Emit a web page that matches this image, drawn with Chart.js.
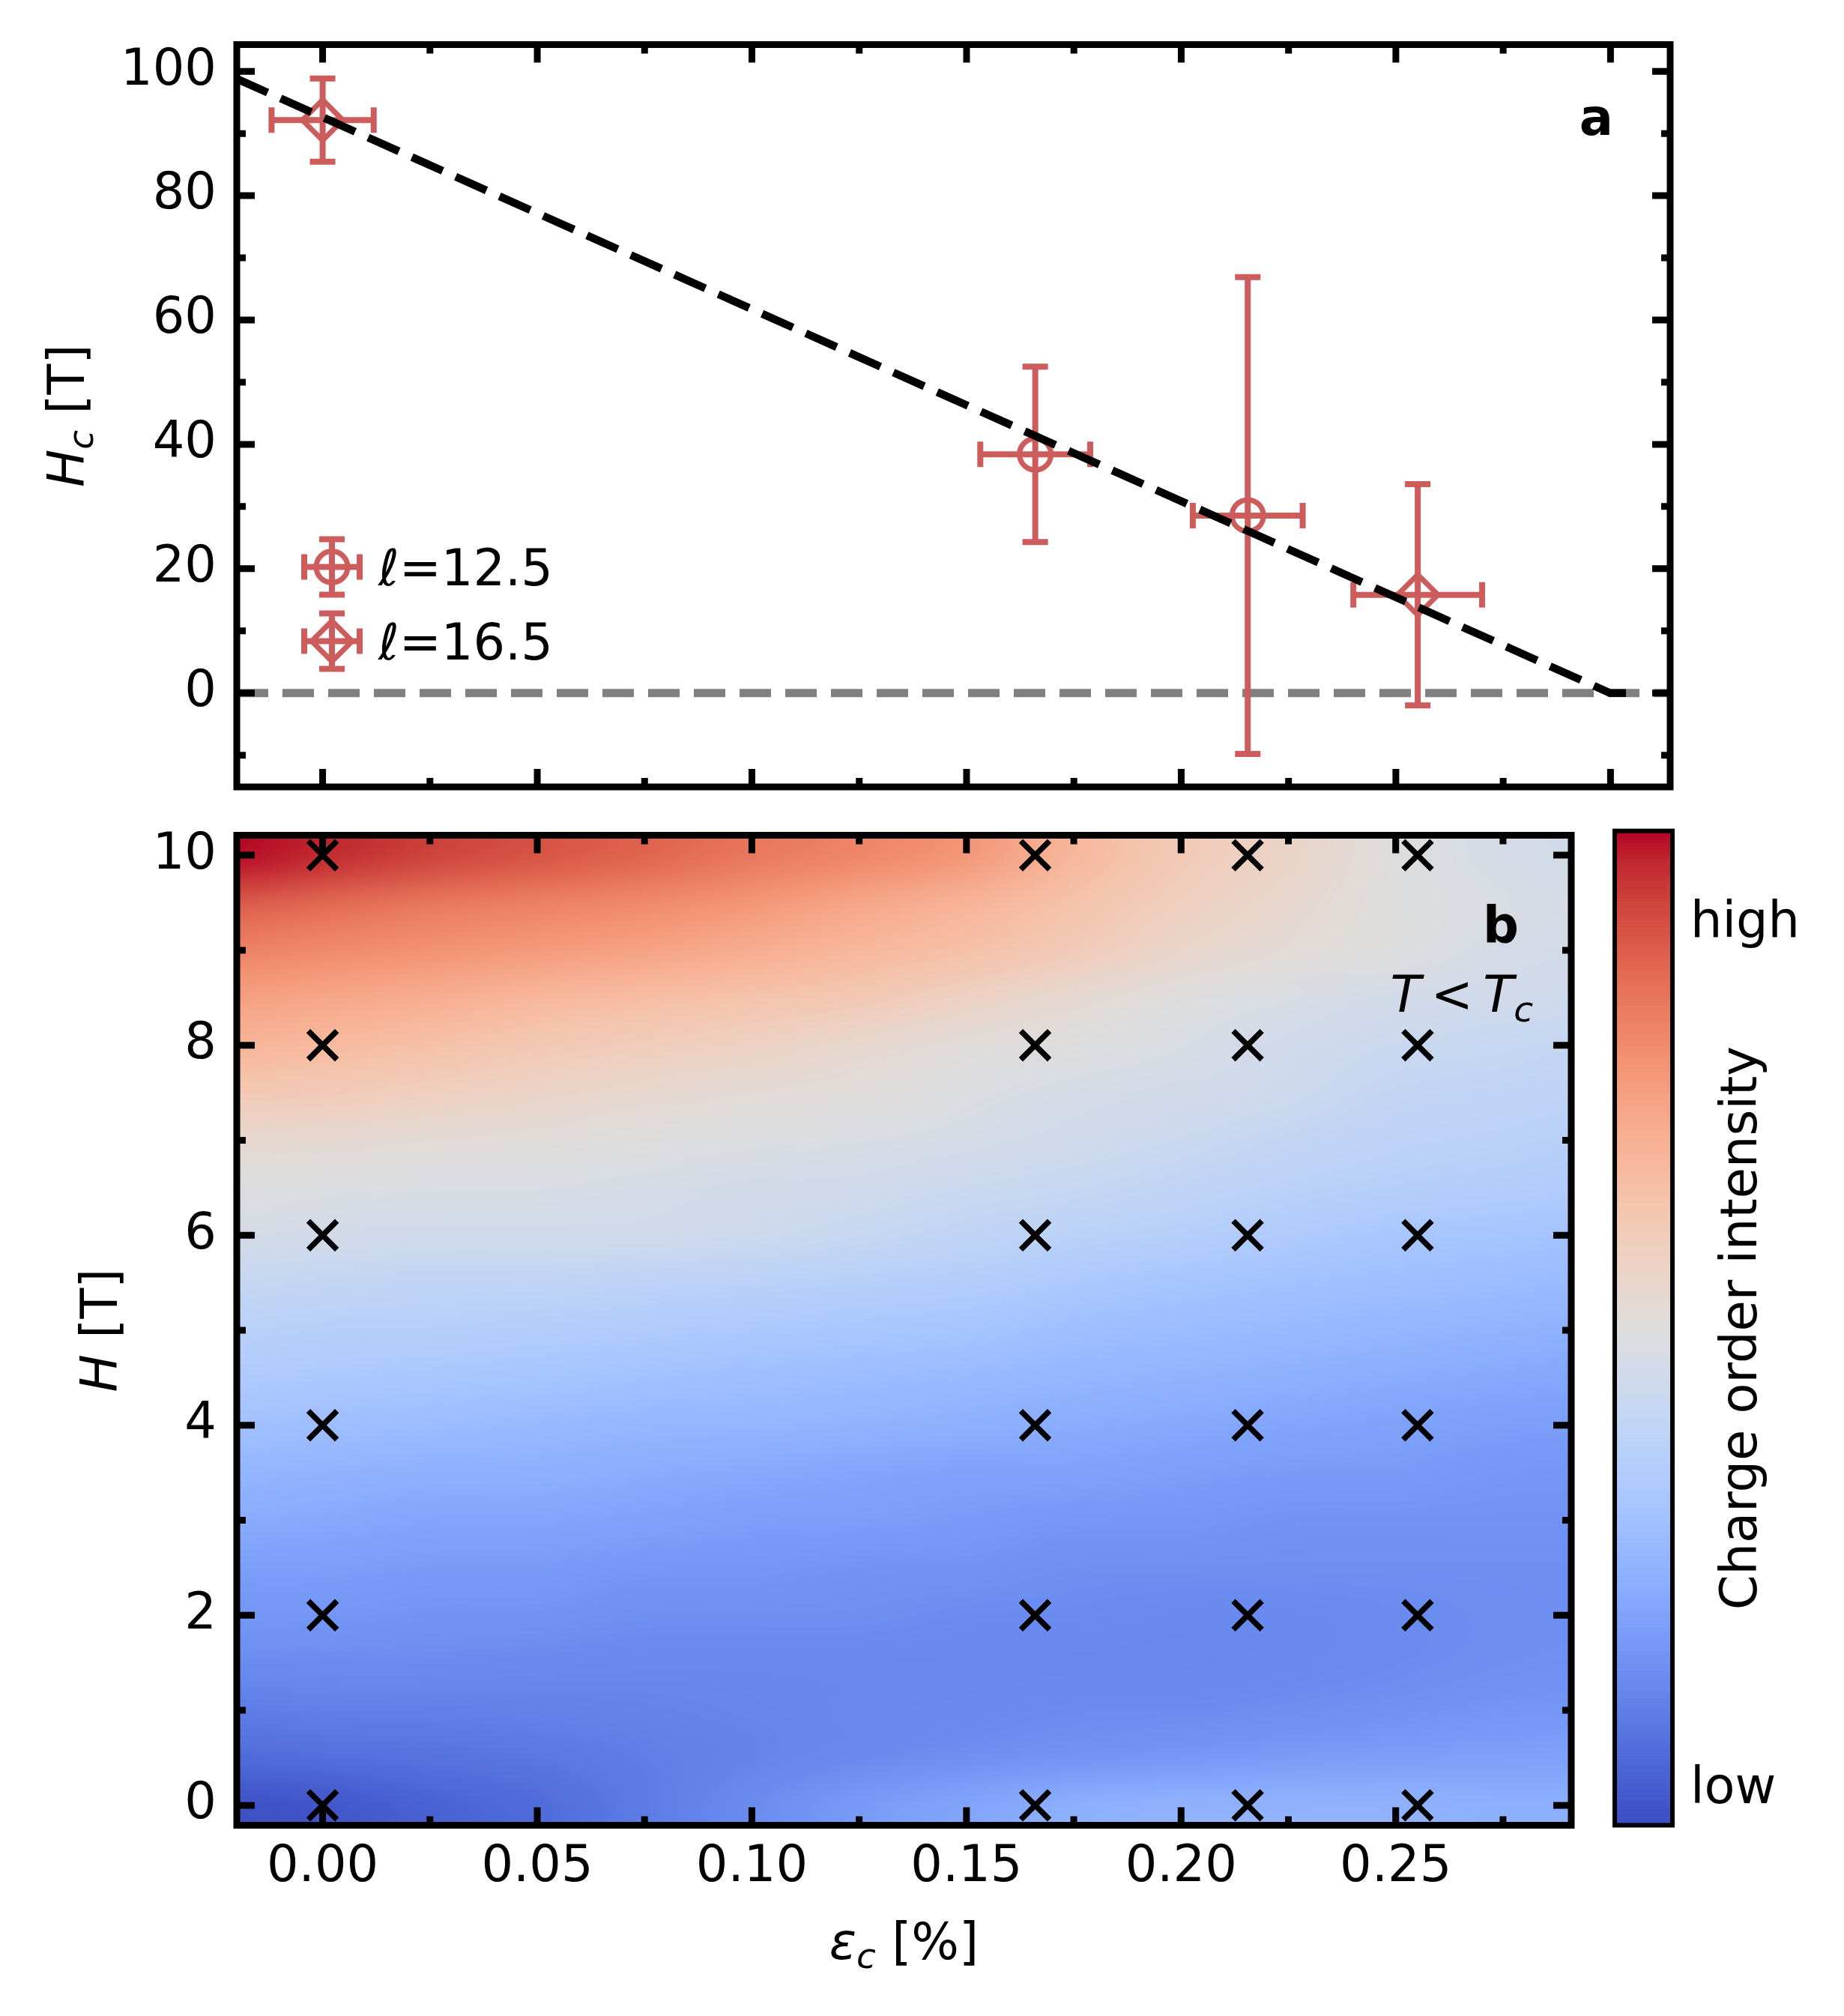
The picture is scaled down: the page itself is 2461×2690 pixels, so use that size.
<!DOCTYPE html>
<html>
<head>
<meta charset="utf-8">
<script src="https://cdn.jsdelivr.net/npm/chart.js@4.4.0/dist/chart.umd.min.js"></script>
<style>
html, body {margin: 0; padding: 0; background: #fff;}
#page {position: relative; width: 2461px; height: 2690px; overflow: hidden;}
#page canvas {position: absolute;}
</style>
</head>
<body>
<div id="page">
  <canvas id="field_chart" width="2461" height="1100" style="left:0;top:0"></canvas>
  <canvas id="map_chart" width="2461" height="1610" style="left:0;top:1080px"></canvas>
  <canvas id="colorbar_chart" width="361" height="1610" style="left:2100px;top:1080px"></canvas>
</div>
<script>
//--------------------------------------------------------------------------------
//--- Input datasets
//--------------------------------------------------------------------------------

// panel a: critical field H_c against strain, two l values
var l125_strain     = [0.166, 0.2155];
var l125_strain_err = [0.0128, 0.0128];
var l125_hc         = [38.4, 28.55];
var l125_hc_err     = [14.1, 38.35];

var l165_strain     = [0.0, 0.2551];
var l165_strain_err = [0.0119, 0.015];
var l165_hc         = [92.15, 15.8];
var l165_hc_err     = [6.7, 17.8];

// linear fit, clipped at zero
var fit_strain = [-0.02, 0.2999, 0.304];
var fit_hc     = [98.8, 0, 0];

// panel b: measured (strain, field) points
var probe_strain = [0.0, 0.166, 0.2155, 0.2551];
var probe_field  = [0, 2, 4, 6, 8, 10];

// panel b: charge order intensity map (colour scale 0..1), rows from H=10 down to H=0
var heat_strain = [-0.025, 0.0, 0.025, 0.05, 0.075, 0.10, 0.125, 0.15, 0.175, 0.20, 0.225, 0.25, 0.275, 0.30];
var heat_field  = [10, 9.5, 9, 8.5, 8, 7.5, 7, 6.5, 6, 5.5, 5, 4.5, 4, 3.5, 3, 2.5, 2, 1.5, 1, 0.5, 0];
var heat_rows = [
    [1.00, 0.97, 0.93, 0.90, 0.87, 0.83, 0.80, 0.76, 0.67, 0.60, 0.56, 0.50, 0.47, 0.45],
    [0.89, 0.86, 0.83, 0.81, 0.79, 0.76, 0.72, 0.68, 0.63, 0.58, 0.54, 0.50, 0.48, 0.47],
    [0.81, 0.79, 0.77, 0.75, 0.73, 0.70, 0.67, 0.64, 0.60, 0.55, 0.52, 0.50, 0.47, 0.46],
    [0.74, 0.72, 0.70, 0.67, 0.65, 0.63, 0.61, 0.57, 0.53, 0.50, 0.48, 0.46, 0.45, 0.44],
    [0.68, 0.66, 0.64, 0.61, 0.59, 0.57, 0.54, 0.51, 0.50, 0.48, 0.45, 0.43, 0.42, 0.41],
    [0.61, 0.60, 0.58, 0.56, 0.54, 0.52, 0.51, 0.49, 0.47, 0.46, 0.44, 0.41, 0.40, 0.39],
    [0.54, 0.53, 0.52, 0.51, 0.50, 0.49, 0.48, 0.47, 0.45, 0.43, 0.41, 0.39, 0.38, 0.37],
    [0.50, 0.49, 0.48, 0.48, 0.47, 0.46, 0.45, 0.43, 0.42, 0.40, 0.38, 0.37, 0.36, 0.35],
    [0.47, 0.46, 0.45, 0.45, 0.45, 0.44, 0.42, 0.40, 0.38, 0.37, 0.35, 0.33, 0.32, 0.31],
    [0.42, 0.41, 0.40, 0.40, 0.39, 0.38, 0.37, 0.36, 0.34, 0.32, 0.31, 0.30, 0.29, 0.28],
    [0.38, 0.37, 0.37, 0.36, 0.35, 0.34, 0.33, 0.32, 0.30, 0.29, 0.28, 0.27, 0.26, 0.25],
    [0.35, 0.34, 0.33, 0.32, 0.31, 0.30, 0.29, 0.28, 0.27, 0.26, 0.25, 0.24, 0.23, 0.22],
    [0.31, 0.30, 0.29, 0.28, 0.27, 0.27, 0.26, 0.25, 0.24, 0.23, 0.22, 0.21, 0.20, 0.20],
    [0.27, 0.26, 0.25, 0.25, 0.24, 0.23, 0.22, 0.21, 0.21, 0.20, 0.19, 0.19, 0.18, 0.18],
    [0.24, 0.23, 0.22, 0.22, 0.21, 0.20, 0.20, 0.19, 0.18, 0.18, 0.17, 0.17, 0.17, 0.17],
    [0.20, 0.20, 0.19, 0.19, 0.18, 0.18, 0.17, 0.17, 0.16, 0.16, 0.16, 0.16, 0.16, 0.16],
    [0.18, 0.18, 0.17, 0.17, 0.16, 0.16, 0.16, 0.15, 0.15, 0.145, 0.145, 0.15, 0.155, 0.16],
    [0.15, 0.15, 0.15, 0.145, 0.14, 0.14, 0.14, 0.14, 0.14, 0.14, 0.145, 0.15, 0.16, 0.165],
    [0.11, 0.12, 0.12, 0.125, 0.13, 0.135, 0.14, 0.145, 0.15, 0.15, 0.155, 0.165, 0.175, 0.18],
    [0.07, 0.08, 0.09, 0.10, 0.115, 0.13, 0.145, 0.16, 0.17, 0.18, 0.19, 0.20, 0.205, 0.21],
    [0.01, 0.02, 0.05, 0.07, 0.11, 0.15, 0.19, 0.22, 0.25, 0.26, 0.26, 0.26, 0.25, 0.25]
];

// ticks
var strain_major = [0.0, 0.05, 0.10, 0.15, 0.20, 0.25, 0.30];
var strain_minor = [0.025, 0.075, 0.125, 0.175, 0.225, 0.275];
var hc_major = [0, 20, 40, 60, 80, 100];
var hc_minor = [-10, 10, 30, 50, 70, 90];
var field_major = [0, 2, 4, 6, 8, 10];
var field_minor = [1, 3, 5, 7, 9];
var colorbar_ticks = [0.035, 0.906];
var colorbar_tick_labels = ['low', 'high'];

//--------------------------------------------------------------------------------
//--- Styling helpers
//--------------------------------------------------------------------------------

var RED = '#CD5C5C';
var FONT = '"DejaVu Sans"';

Chart.defaults.font.family = 'DejaVu Sans';
Chart.defaults.font.size = 67;
Chart.defaults.color = '#000';

// matplotlib coolwarm
var coolwarm = [
    [59,76,192],[68,90,204],[77,104,215],[87,117,225],[98,130,234],[108,142,241],[119,154,247],
    [130,165,251],[141,176,254],[152,185,255],[163,194,255],[174,201,253],[184,208,249],
    [194,213,244],[204,217,238],[213,219,230],[221,221,221],[229,216,209],[236,211,197],
    [241,204,185],[245,196,173],[247,187,160],[247,177,148],[247,166,135],[244,154,123],
    [241,141,111],[236,127,99],[229,112,88],[222,96,77],[213,80,66],[203,62,56],[192,40,47],[180,4,38]];

function cmap(v) {
    v = Math.max(0, Math.min(1, v));
    var f = v * (coolwarm.length - 1), i = Math.min(Math.floor(f), coolwarm.length - 2), t = f - i;
    var a = coolwarm[i], b = coolwarm[i + 1];
    return [0, 1, 2].map(function (k) { return Math.round(a[k] + (b[k] - a[k]) * t); });
}

function pts(xs, ys) {
    return xs.map(function (x, i) { return {x: x, y: ys[i]}; });
}

// text made of pieces with their own font and vertical shift
function drawRich(ctx, pieces, x, y, align) {
    var total = 0;
    pieces.forEach(function (p) { ctx.font = p.font; p.w = ctx.measureText(p.t).width; total += p.w; });
    var cx = align === 'right' ? x - total : (align === 'center' ? x - total / 2 : x);
    ctx.textAlign = 'left';
    ctx.textBaseline = 'alphabetic';
    ctx.fillStyle = '#000';
    pieces.forEach(function (p) { ctx.font = p.font; ctx.fillText(p.t, cx, y + (p.dy || 0)); cx += p.w; });
}

// frame and inward major/minor ticks on all four sides
var frameTicks = {
    id: 'frameTicks',
    afterDraw: function (chart, args, opts) {
        var ctx = chart.ctx, a = chart.chartArea, xs = chart.scales.x, ys = chart.scales.y;
        ctx.save();
        ctx.strokeStyle = '#000';
        ctx.lineWidth = 9;
        ctx.lineCap = 'butt';
        function xt(vals, len) {
            vals.forEach(function (v) {
                var p = xs.getPixelForValue(v);
                if (p < a.left || p > a.right) return;
                ctx.beginPath();
                ctx.moveTo(p, a.bottom); ctx.lineTo(p, a.bottom - len);
                ctx.moveTo(p, a.top); ctx.lineTo(p, a.top + len);
                ctx.stroke();
            });
        }
        function yt(vals, len) {
            vals.forEach(function (v) {
                var p = ys.getPixelForValue(v);
                if (p < a.top || p > a.bottom) return;
                ctx.beginPath();
                ctx.moveTo(a.left, p); ctx.lineTo(a.left + len, p);
                ctx.moveTo(a.right, p); ctx.lineTo(a.right - len, p);
                ctx.stroke();
            });
        }
        xt(opts.xMajor, 24); xt(opts.xMinor, 12);
        yt(opts.yMajor, 24); yt(opts.yMinor, 12);
        ctx.strokeRect(a.left, a.top, a.right - a.left, a.bottom - a.top);
        ctx.restore();
    }
};

function fixedTicks(vals) {
    return function (scale) { scale.ticks = vals.map(function (v) { return {value: v}; }); };
}

// fixed axis box, no extra room for edge labels
function fixedSize(w, h) {
    return function (s) {
        if (w !== null) s.width = w;
        if (h !== null) s.height = h;
        s.paddingTop = 0; s.paddingBottom = 0; s.paddingLeft = 0; s.paddingRight = 0;
    };
}

//----------------------------------------
//--- Panel a: critical field
//----------------------------------------

var zeroLine = {
    id: 'zeroLine',
    beforeDatasetsDraw: function (chart) {
        var ctx = chart.ctx, a = chart.chartArea, y = chart.scales.y.getPixelForValue(0);
        ctx.save();
        ctx.strokeStyle = '#808080';
        ctx.lineWidth = 11;
        ctx.setLineDash([42, 19]);
        ctx.beginPath(); ctx.moveTo(a.left, y); ctx.lineTo(a.right, y); ctx.stroke();
        ctx.restore();
    }
};

var errorBars = {
    id: 'errorBars',
    beforeDatasetsDraw: function (chart) {
        var ctx = chart.ctx, xs = chart.scales.x, ys = chart.scales.y, cap = 17;
        chart.data.datasets.forEach(function (ds) {
            if (!ds.xErr) return;
            ctx.save();
            ctx.strokeStyle = ds.pointBorderColor;
            ctx.lineWidth = 8;
            ds.data.forEach(function (p, i) {
                var cx = xs.getPixelForValue(p.x), cy = ys.getPixelForValue(p.y);
                var x0 = xs.getPixelForValue(p.x - ds.xErr[i]), x1 = xs.getPixelForValue(p.x + ds.xErr[i]);
                var y0 = ys.getPixelForValue(p.y - ds.yErr[i]), y1 = ys.getPixelForValue(p.y + ds.yErr[i]);
                ctx.beginPath();
                ctx.moveTo(x0, cy); ctx.lineTo(x1, cy);
                ctx.moveTo(cx, y0); ctx.lineTo(cx, y1);
                ctx.moveTo(x0, cy - cap); ctx.lineTo(x0, cy + cap);
                ctx.moveTo(x1, cy - cap); ctx.lineTo(x1, cy + cap);
                ctx.moveTo(cx - cap, y0); ctx.lineTo(cx + cap, y0);
                ctx.moveTo(cx - cap, y1); ctx.lineTo(cx + cap, y1);
                ctx.stroke();
            });
            ctx.restore();
        });
    }
};

var panelATexts = {
    id: 'panelATexts',
    afterDraw: function (chart) {
        var ctx = chart.ctx, a = chart.chartArea;
        ctx.save();
        // legend with error-bar glyphs
        chart.data.datasets.forEach(function (ds, k) {
            if (!ds.xErr) return;
            var x = a.left + 127, y = a.top + 697 + k * 99, e = 37, cap = 17, r = ds.pointRadius;
            ctx.strokeStyle = ds.pointBorderColor;
            ctx.lineWidth = 8;
            ctx.beginPath();
            ctx.moveTo(x - e, y); ctx.lineTo(x + e, y);
            ctx.moveTo(x, y - e); ctx.lineTo(x, y + e);
            ctx.moveTo(x - e, y - cap); ctx.lineTo(x - e, y + cap);
            ctx.moveTo(x + e, y - cap); ctx.lineTo(x + e, y + cap);
            ctx.moveTo(x - cap, y - e); ctx.lineTo(x + cap, y - e);
            ctx.moveTo(x - cap, y + e); ctx.lineTo(x + cap, y + e);
            ctx.stroke();
            ctx.lineWidth = ds.pointBorderWidth;
            ctx.beginPath();
            if (ds.pointStyle === 'circle') {
                ctx.arc(x, y, r, 0, 2 * Math.PI);
            } else {
                ctx.moveTo(x, y - r); ctx.lineTo(x + r, y); ctx.lineTo(x, y + r); ctx.lineTo(x - r, y); ctx.closePath();
            }
            ctx.stroke();
            drawRich(ctx, [
                {t: '\u2113', font: 'italic 67px ' + FONT},
                {t: ds.label.replace('\u2113', ''), font: '67px ' + FONT}
            ], x + 62, y + 24, 'left');
        });
        drawRich(ctx, [{t: 'a', font: 'bold 67px ' + FONT}], a.right - 76, a.top + 120, 'right');
        // y axis title
        ctx.translate(112, (a.top + a.bottom) / 2);
        ctx.rotate(-Math.PI / 2);
        drawRich(ctx, [
            {t: 'H', font: 'italic 67px ' + FONT},
            {t: 'c', font: 'italic 47px ' + FONT, dy: 12},
            {t: ' [T]', font: '67px ' + FONT}
        ], 0, 0, 'center');
        ctx.restore();
    }
};

var field_chart = new Chart(document.getElementById('field_chart').getContext('2d'), {
    type: 'scatter',
    data: {
        datasets: [{
            label: '\u2113=12.5', data: pts(l125_strain, l125_hc),
            xErr: l125_strain_err, yErr: l125_hc_err,
            pointStyle: 'circle', pointRadius: 21, pointBorderWidth: 7,
            pointBorderColor: RED, pointBackgroundColor: 'rgba(0,0,0,0)', order: 1
        }, {
            label: '\u2113=16.5', data: pts(l165_strain, l165_hc),
            xErr: l165_strain_err, yErr: l165_hc_err,
            pointStyle: 'rectRot', pointRadius: 27, pointBorderWidth: 7,
            pointBorderColor: RED, pointBackgroundColor: 'rgba(0,0,0,0)', order: 1
        }, {
            label: 'fit', data: pts(fit_strain, fit_hc), showLine: true,
            borderColor: '#000', borderWidth: 10.5, borderDash: [45, 19], borderCapStyle: 'butt',
            pointRadius: 0, order: 0
        }]
    },
    options: {
        responsive: false, animation: false, devicePixelRatio: 1, events: [],
        layout: {padding: {left: 0, top: 59.5, right: 232, bottom: 0}},
        scales: {
            x: {
                type: 'linear', min: -0.02, max: 0.3139,
                afterBuildTicks: fixedTicks(strain_major),
                afterFit: fixedSize(null, 50),
                ticks: {display: false},
                grid: {display: false, drawTicks: false}, border: {display: false}
            },
            y: {
                type: 'linear', min: -15.1, max: 104.3,
                afterBuildTicks: fixedTicks(hc_major),
                afterFit: fixedSize(316, null),
                ticks: {padding: 27, callback: function (v) { return String(v); }},
                grid: {display: false, drawTicks: false}, border: {display: false}
            }
        },
        plugins: {
            legend: {display: false}, tooltip: {enabled: false},
            frameTicks: {xMajor: strain_major, xMinor: strain_minor, yMajor: hc_major, yMinor: hc_minor}
        }
    },
    plugins: [zeroLine, errorBars, panelATexts, frameTicks]
});

//----------------------------------------
//--- Panel b: intensity map
//----------------------------------------

var heatmap = {
    id: 'heatmap',
    beforeDatasetsDraw: function (chart, args, opts) {
        var ctx = chart.ctx, a = chart.chartArea, xs = chart.scales.x, ys = chart.scales.y;
        var nx = opts.xs.length, ny = opts.ys.length;
        var img = document.createElement('canvas');
        img.width = nx; img.height = ny;
        var ic = img.getContext('2d'), data = ic.createImageData(nx, ny);
        opts.rows.forEach(function (row, j) {
            row.forEach(function (v, i) {
                var c = cmap(v), o = (j * nx + i) * 4;
                data.data[o] = c[0]; data.data[o + 1] = c[1]; data.data[o + 2] = c[2]; data.data[o + 3] = 255;
            });
        });
        ic.putImageData(data, 0, 0);
        var dx = (opts.xs[nx - 1] - opts.xs[0]) / (nx - 1);
        var dy = (opts.ys[0] - opts.ys[ny - 1]) / (ny - 1);
        var left = xs.getPixelForValue(opts.xs[0] - dx / 2), right = xs.getPixelForValue(opts.xs[nx - 1] + dx / 2);
        var top = ys.getPixelForValue(opts.ys[0] + dy / 2), bottom = ys.getPixelForValue(opts.ys[ny - 1] - dy / 2);
        ctx.save();
        ctx.beginPath(); ctx.rect(a.left, a.top, a.right - a.left, a.bottom - a.top); ctx.clip();
        ctx.imageSmoothingEnabled = true;
        ctx.imageSmoothingQuality = 'high';
        ctx.drawImage(img, left, top, right - left, bottom - top);
        ctx.restore();
    }
};

var panelBTexts = {
    id: 'panelBTexts',
    afterDraw: function (chart) {
        var ctx = chart.ctx, a = chart.chartArea;
        ctx.save();
        drawRich(ctx, [{t: 'b', font: 'bold 67px ' + FONT}], a.right - 70, a.top + 143, 'right');
        drawRich(ctx, [
            {t: 'T', font: 'italic 67px ' + FONT},
            {t: '\u2009<\u2009', font: '67px ' + FONT},
            {t: 'T', font: 'italic 67px ' + FONT},
            {t: 'c', font: 'italic 47px ' + FONT, dy: 13}
        ], a.right - 51, a.top + 235, 'right');
        drawRich(ctx, [
            {t: '\u03b5', font: 'italic 67px ' + FONT},
            {t: 'c', font: 'italic 47px ' + FONT, dy: 12},
            {t: ' [%]', font: '67px ' + FONT}
        ], (a.left + a.right) / 2, a.bottom + 178, 'center');
        ctx.translate(156, (a.top + a.bottom) / 2);
        ctx.rotate(-Math.PI / 2);
        drawRich(ctx, [
            {t: 'H', font: 'italic 67px ' + FONT},
            {t: ' [T]', font: '67px ' + FONT}
        ], 0, 0, 'center');
        ctx.restore();
    }
};

var probe_points = [];
probe_strain.forEach(function (x) {
    probe_field.forEach(function (h) { probe_points.push({x: x, y: h}); });
});

var map_chart = new Chart(document.getElementById('map_chart').getContext('2d'), {
    type: 'scatter',
    data: {
        datasets: [{
            label: 'measured', data: probe_points,
            pointStyle: 'crossRot', pointRadius: 27, pointBorderWidth: 7.5, pointBorderColor: '#000'
        }]
    },
    options: {
        responsive: false, animation: false, devicePixelRatio: 1, events: [],
        layout: {padding: {left: 0, top: 28.7, right: 364, bottom: 0}},
        scales: {
            x: {
                type: 'linear', min: -0.02, max: 0.2909,
                afterBuildTicks: fixedTicks(strain_major.filter(function (v) { return v <= 0.29; })),
                afterFit: fixedSize(null, 254.5),
                ticks: {padding: 17, maxRotation: 0, callback: function (v) { return v.toFixed(2); }},
                grid: {display: false, drawTicks: false}, border: {display: false}
            },
            y: {
                type: 'linear', min: -0.21, max: 10.21,
                afterBuildTicks: fixedTicks(field_major),
                afterFit: fixedSize(316, null),
                ticks: {padding: 27, callback: function (v) { return String(v); }},
                grid: {display: false, drawTicks: false}, border: {display: false}
            }
        },
        plugins: {
            legend: {display: false}, tooltip: {enabled: false},
            heatmap: {xs: heat_strain, ys: heat_field, rows: heat_rows},
            frameTicks: {xMajor: strain_major, xMinor: strain_minor, yMajor: field_major, yMinor: field_minor}
        }
    },
    plugins: [heatmap, panelBTexts, frameTicks]
});

//----------------------------------------
//--- Colour bar
//----------------------------------------

var colorbarFill = {
    id: 'colorbarFill',
    afterDraw: function (chart) {
        var ctx = chart.ctx, a = chart.chartArea, ys = chart.scales.y, n = 256;
        ctx.save();
        for (var k = 0; k < n; k++) {
            var c = cmap((k + 0.5) / n);
            var y0 = ys.getPixelForValue(k / n), y1 = ys.getPixelForValue((k + 1) / n);
            ctx.fillStyle = 'rgb(' + c.join(',') + ')';
            ctx.fillRect(a.left, y1, a.right - a.left, y0 - y1 + 0.6);
        }
        ctx.strokeStyle = '#000';
        ctx.lineWidth = 6;
        ctx.strokeRect(a.left, a.top, a.right - a.left, a.bottom - a.top);
        ctx.translate(a.right + 112, (a.top + a.bottom) / 2);
        ctx.rotate(-Math.PI / 2);
        drawRich(ctx, [{t: 'Charge order intensity', font: '67px ' + FONT}], 0, 0, 'center');
        ctx.restore();
    }
};

var colorbar_chart = new Chart(document.getElementById('colorbar_chart').getContext('2d'), {
    type: 'scatter',
    data: {datasets: []},
    options: {
        responsive: false, animation: false, devicePixelRatio: 1, events: [],
        layout: {padding: {left: 55, top: 28.7, right: 0, bottom: 254.5}},
        scales: {
            x: {type: 'linear', display: false, min: 0, max: 1},
            y: {
                type: 'linear', position: 'right', min: 0, max: 1,
                afterBuildTicks: fixedTicks(colorbar_ticks),
                afterFit: fixedSize(229, null),
                ticks: {padding: 24, callback: function (v, i) { return colorbar_tick_labels[i]; }},
                grid: {display: false, drawTicks: false}, border: {display: false}
            }
        },
        plugins: {legend: {display: false}, tooltip: {enabled: false}}
    },
    plugins: [colorbarFill]
});
</script>
</body>
</html>
